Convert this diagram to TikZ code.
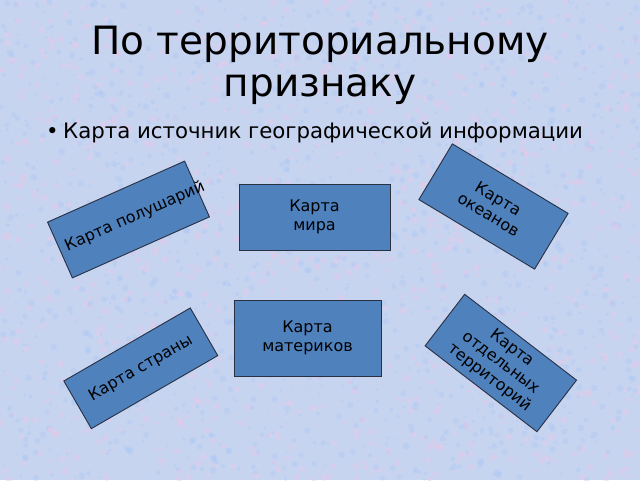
\documentclass[tikz,border=0pt]{standalone}
\usepackage{fontspec}
\setmainfont{DejaVu Sans}
\definecolor{slidebg}{RGB}{198,212,240}
\definecolor{speckpink}{RGB}{232,200,232}
\definecolor{speckblue}{RGB}{170,200,245}
\definecolor{mapfill}{RGB}{79,129,189}
\definecolor{mapedge}{RGB}{40,48,66}
\usepackage{tikz}
\usetikzlibrary{positioning}

\begin{document}
\begin{tikzpicture}[x=1pt, y=1pt,
    every node/.style={font=\fontsize{16}{18.6}\selectfont, text=black},
    heading/.style={font=\fontsize{39}{46}\selectfont, anchor=base, inner sep=0pt},
    bulletline/.style={font=\fontsize{21.3}{25}\selectfont, anchor=base west, inner sep=0pt},
    box/.style={rectangle, fill=mapfill, draw=mapedge, line width=0.9pt,
                align=center, inner sep=0pt}]

    %% Background of the slide, with a light speckle
    \useasboundingbox (0,0) rectangle (640,480);
    \clip (0,0) rectangle (640,480);
    \fill[slidebg] (0,0) rectangle (640,480);
    \pgfmathsetseed{17}
    \foreach \i in {1,...,1400} {
      \fill[speckpink, opacity=0.45] (640*rnd,480*rnd) circle (1+2.5*rnd);
      \fill[speckblue, opacity=0.35] (640*rnd,480*rnd) circle (1+2.5*rnd);
    }

    %% Title
    \node[heading] (title1) at (320,425) {По территориальному};
    \node[heading] (title2) at ([yshift=-42pt]title1.base) {признаку};

    %% Bullet line
    \node[bulletline] (source) at (63,341) {Карта источник географической информации};
    \node[bulletline, anchor=base east] (dot) at ([xshift=-4pt]source.base west) {•};

    %% Centre boxes
    \node[box, minimum width=151, minimum height=66] (mira) at (314.5,263)
      {Карта\\мира};
    \node[box, minimum width=147, minimum height=76] (materik) at (307.5,142)
      {Карта\\материков};

    %% Tilted boxes
    \node[box, rotate=24, minimum width=150, minimum height=61,
          text width=137, inner xsep=6.5, align=left] (polush) at (128.5,260.5)
      {\mbox{Карта полушарий}};
    \node[box, rotate=-31, minimum width=135, minimum height=65] (okean) at (493.5,273.5)
      {Карта\\океанов};
    \node[box, rotate=30, minimum width=146, minimum height=55] (strana) at (140.8,111.7)
      {Карта страны};
    \node[box, rotate=-37.5, minimum width=141, minimum height=65] (territ) at (500.8,117)
      {Карта\\отдельных\\территорий};
  \end{tikzpicture}
\end{document}
